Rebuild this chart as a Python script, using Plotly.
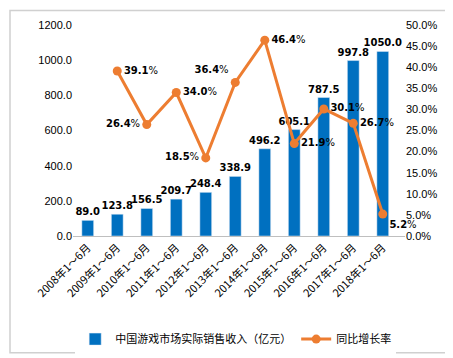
import plotly.graph_objects as go

categories = [f"{y}年1～6月" for y in range(2008, 2019)]
revenue = [89.0, 123.8, 156.5, 209.7, 248.4, 338.9, 496.2, 605.1, 787.5, 997.8, 1050.0]
growth_cats = categories[1:]
growth = [39.1, 26.4, 34.0, 18.5, 36.4, 46.4, 21.9, 30.1, 26.7, 5.2]
growth_pos = ["middle right", "middle left", "middle right", "middle left", "top left",
              "middle right", "middle right", "middle right", "middle right", "bottom right"]

BAR = "#0070C0"
LINE = "#ED7D31"
NUMF = "Liberation Sans, Arial, sans-serif"
CJK = "Noto Sans CJK SC, sans-serif"

fig = go.Figure()
fig.add_trace(go.Bar(
    x=categories, y=revenue, name="中国游戏市场实际销售收入（亿元）",
    marker_color=BAR, width=0.4,
    text=[f"<b>{v:.1f}</b>" for v in revenue], textposition="outside",
    constraintext="none",
    textfont=dict(family="DejaVu Sans", size=10, color="#000000"),
    cliponaxis=False,
))
fig.add_trace(go.Scatter(
    x=growth_cats, y=growth, yaxis="y2", name="同比增长率",
    mode="lines+markers+text",
    line=dict(color=LINE, width=3), marker=dict(color=LINE, size=9),
    text=[f"<b>{v:.1f}</b>%" for v in growth], textposition=growth_pos,
    textfont=dict(family="DejaVu Sans", size=10, color="#000000"),
    cliponaxis=False,
))

fig.update_layout(
    width=453, height=358,
    margin=dict(l=65, r=56, t=17, b=124),
    paper_bgcolor="white", plot_bgcolor="white",
    showlegend=True,
    legend=dict(orientation="h", x=0.49, xanchor="center", y=-0.42, yanchor="top",
                font=dict(family=CJK, size=11, color="#000000"),
                entrywidth=0, tracegroupgap=0),
    xaxis=dict(type="category", tickangle=-45, showline=True, linecolor="#BFBFBF",
               linewidth=1, ticks="", automargin=False,
               tickfont=dict(family=CJK, size=11, color="#000000"),
               showgrid=False),
    yaxis=dict(range=[0, 1200], dtick=200, tickformat=".1f", showgrid=False,
               zeroline=False, showline=False, automargin=False,
               tickfont=dict(family=NUMF, size=11, color="#000000")),
    yaxis2=dict(range=[0, 50], dtick=5, tickformat=".1f", ticksuffix="%",
                overlaying="y", side="right", showgrid=False, zeroline=False,
                showline=False, automargin=False,
                tickfont=dict(family=NUMF, size=11, color="#000000")),
    shapes=[dict(type="rect", xref="paper", yref="paper",
                 x0=(2 - 65) / 332, x1=(450 - 65) / 332,
                 y0=(234 - 354) / 217, y1=(234 - 2) / 217,
                 line=dict(color="#D0D0D0", width=1.5), fillcolor="rgba(0,0,0,0)")],
)

fig.write_html("out.html")
